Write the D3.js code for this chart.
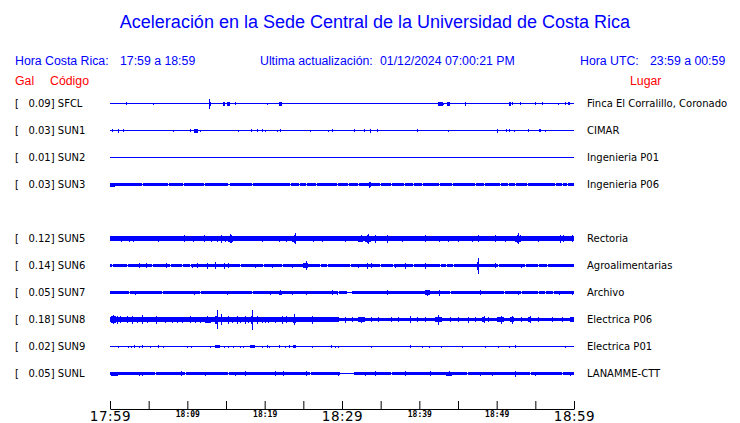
<!DOCTYPE html>
<html><head><meta charset="utf-8">
<script src="https://cdn.jsdelivr.net/npm/d3@7"></script>
<style>
html,body{margin:0;padding:0;background:#fff;}
svg{display:block;}
text{white-space:pre;}
</style></head>
<body>
<script>
// ---------------- DATA ----------------
const title = "Aceleración en la Sede Central de la Universidad de Costa Rica";
const localRange = "17:59 a 18:59";
const utcRange = "23:59 a 00:59";
const updated = "01/12/2024 07:00:21 PM";
const startTime = "2024-12-01T17:59:00";
const endTime = "2024-12-01T18:59:00";

const rowOrder = ["SFCL","SUN1","SUN2","SUN3","SUN4","SUN5","SUN6","SUN7","SUN8","SUN9","SUNL"];
const stations = ["SFCL","SUN1","SUN2","SUN3","SUN5","SUN6","SUN7","SUN8","SUN9","SUNL"];
const gal = [0.09,0.03,0.01,0.03,0.12,0.14,0.05,0.18,0.02,0.05];
const places = ["Finca El Corralillo, Coronado","CIMAR","Ingenieria P01","Ingenieria P06","Rectoria",
  "Agroalimentarias","Archivo","Electrica P06","Electrica P01","LANAMME-CTT"];

// background (noise) half-amplitude of each trace, relative units
const baseAmp = [0.5,0.5,0.5,1.5,2.3,1.4,1.2,1.7,0.5,1.3];

// envelope peaks: [start minute, end minute, half-amplitude] (minutes after 17:59)
const peaksSFCL = [[2.1,2.1,1.5],[5.5,5.5,1],[12.8,12.8,5],[12.9,13.0,2],[14.6,14.9,2],[15.1,15.5,2],[16.1,16.1,1.5],
  [20.3,20.3,1],[21.9,22.3,2],[42.4,43.0,2],[43.1,43.1,1],[43.6,44.0,2],[45.9,46.0,2],[51.6,51.8,2],[52.0,52.0,1.5],
  [53.0,53.0,1.5],[55.0,55.1,1.5],[55.8,55.8,1.5],[57.9,57.9,1],[58.9,58.9,1.5],[59.2,59.2,1.5],[59.4,59.4,1.5]];
const peaksSUN1 = [[0.3,0.3,1.5],[1.0,1.1,2],[1.7,1.7,1.5],[8.2,8.2,1],[10.4,10.4,1.5],[10.8,11.4,2],[11.7,11.7,1],
  [16.6,16.6,1],[18.2,18.2,1.5],[19.0,19.0,1.5],[19.6,19.6,1.5],[20.0,20.0,1],[21.6,21.6,1],[22.0,22.0,1.5],
  [25.9,25.9,1],[28.2,28.2,1],[28.7,28.7,1.5],[31.6,31.6,1.5],[32.8,32.8,1.5],[33.6,33.7,2],[34.5,34.5,1.5],
  [39.7,39.8,1.5],[43.7,43.7,1],[50.0,50.0,2],[51.2,51.2,1.5],[51.6,51.6,1.5],[52.2,52.2,1],[54.1,54.1,1.5],
  [55.5,55.7,1.5],[56.3,56.3,1]];
const peaksSUN2 = [];
const peaksSUN3 = [[0,0.6,2],[33.5,33.5,3],[33.6,33.6,2.5],[20.5,20.6,1.8],[45.0,45.1,1.8],[57.0,57.1,1.8]];
const peaksSUN5 = [[0.1,0.6,2.8],[1.4,1.4,3],[2.4,2.4,3],[3.0,3.0,3],[4.5,4.5,2.8],[6.2,6.2,3],[8.0,8.0,2.8],
  [9.3,9.9,2.8],[9.6,9.6,3.2],[10.7,10.7,3],[12.1,12.1,3.5],[13.1,13.1,3],[13.8,13.8,3],[14.4,14.4,4],[14.9,14.9,3],
  [15.3,15.9,3],[15.5,15.5,4.5],[15.7,15.7,4],[17.5,17.5,2.8],[19.6,19.6,3],[21.8,21.8,3],[22.8,22.8,3],
  [23.5,24.1,3],[23.8,23.8,4],[23.9,23.9,5.5],[26.3,26.3,3],[27.4,27.4,3],[29.0,29.0,2.8],[30.4,30.4,3],
  [32.1,32.7,3],[32.4,32.4,3.5],[33.0,33.8,3],[33.2,33.2,4],[33.4,33.4,5],[34.3,34.3,4],[35.8,35.8,4],
  [37.7,37.7,3],[39.0,39.0,2.8],[40.7,40.7,3.5],[42.5,42.5,3],[43.7,43.7,3],[45.0,45.0,3],[46.8,46.8,3],
  [47.6,47.6,3.5],[49.8,49.8,3.5],[51.1,51.1,3],[52.4,53.2,3],[52.6,52.6,4],[52.8,52.8,5.5],[53.0,53.0,3.5],
  [55.4,55.4,3],[57.5,58.8,2.8],[58.2,58.2,4],[58.6,58.6,3.5],[59.8,59.8,3.5]];
const peaksSUN6 = [[3.7,3.7,2.5],[4.7,4.7,2.5],[7.3,7.3,2.5],[10.6,10.6,2],[11.2,11.2,2.5],[12.5,12.5,3],
  [13.6,13.6,3.5],[14.7,14.7,3],[15.3,15.3,2.5],[18.8,18.8,2],[20.9,20.9,2],[23.5,23.5,2],[25.0,25.6,2.8],
  [25.3,25.3,4.5],[32.1,32.1,2],[33.2,33.2,3],[33.8,33.8,2.5],[36.9,36.9,2],[38.1,38.1,3],[40.7,40.7,3],
  [47.5,47.7,4],[47.6,47.6,8],[49.8,49.8,2.5],[53.2,53.2,2]];
const peaksSUN7 = [[3.2,3.2,2],[4.1,4.1,1.8],[10.8,10.8,2],[15.1,15.1,2],[20.7,20.7,2],[21.8,22.2,2],[22.0,22.0,2.5],
  [23.5,23.5,2],[25.4,25.4,2],[28.7,28.8,2.5],[29.3,29.3,2],[35.8,35.8,2.5],[40.7,41.4,2.2],[41.0,41.0,3],
  [42.5,42.5,3],[47.8,47.8,2.5],[52.8,52.8,2],[58.0,58.0,2],[59.7,59.7,2]];
const peaksSUN8 = [[0,29.5,2.2],[0.1,0.6,3.2],[0.4,0.4,4.5],[0.65,0.65,3.5],[0.9,0.9,4],[1.29,1.29,3.5],
  [2.2,2.2,3.5],[2.8,2.8,4],[3.45,3.45,3],[4.1,4.1,4.5],[4.74,4.74,3],[6.0,6.0,4],[7.11,7.11,3],[8.0,8.0,3],
  [8.62,8.62,3],[9.27,9.27,3],[10.3,10.3,3.5],[10.99,10.99,3],[11.64,11.64,3],[12.3,13.1,3],[12.6,12.6,3.5],
  [13.6,14.0,4],[13.8,13.8,9.5],[14.4,14.4,5.5],[15.3,15.3,4],[15.73,15.73,3],[16.4,16.4,4],[16.81,16.81,3],
  [17.5,17.5,4],[17.89,17.89,3],[18.2,18.4,4],[18.3,18.3,10],[19.0,19.0,4],[19.61,19.61,3],[20.0,20.0,3],
  [20.47,20.47,3],[21.34,21.34,3],[22.2,22.2,4],[22.8,22.8,3.5],[23.6,24.0,3],[23.8,23.8,5.5],[26.1,26.1,4],
  [26.9,26.9,2.5],[29.5,29.5,2.5],[30.4,30.4,3],[31.3,31.3,2.5],[32.1,33.0,2.5],[32.5,32.5,3],[33.8,33.8,2.5],
  [34.7,34.7,2.5],[36.4,36.4,2.5],[37.3,37.3,2.5],[38.8,38.8,3.5],[39.7,39.7,2.5],[40.7,40.7,2.5],
  [42.0,42.9,2.8],[42.4,42.4,5],[44.0,44.0,2.5],[45.0,45.0,2.5],[46.3,46.3,3],[47.2,47.2,2.5],[48.1,48.5,2.8],
  [48.3,48.3,3.5],[48.9,48.9,2.5],[50.0,50.9,2.8],[50.5,50.5,4],[51.7,52.2,2.8],[52.0,52.0,4],[53.2,53.2,2.5],
  [54.1,54.5,2.8],[54.3,54.3,3.5],[55.4,55.4,2.5],[57.1,57.1,2.5],[58.4,58.4,2.5],[59.5,60,2.5]];
const peaksSUN9 = [[1.0,1.0,1],[2.3,2.3,1],[2.7,2.7,1],[3.1,3.1,1.5],[3.7,3.7,1],[4.1,4.1,1.5],[5.2,5.2,1],
  [6.2,6.2,1.5],[6.9,6.9,1],[9.9,9.9,1],[10.5,10.5,1],[12.9,12.9,1],[13.6,14.2,1.5],[14.7,14.7,1],[15.3,15.3,1],
  [15.9,15.9,1],[16.8,16.8,1],[17.2,17.2,1],[18.1,18.8,1.5],[19.6,19.6,1],[20.3,20.3,1.5],[20.6,20.6,1],
  [21.9,21.9,1.5],[22.6,22.6,1],[23.1,23.1,1.5],[23.7,24.0,1.5],[26.1,26.1,1],[28.6,28.7,1.5],[29.1,29.1,1],
  [29.5,29.5,1],[33.8,33.8,1],[38.8,38.8,1.5],[40.3,40.3,1],[41.2,41.2,1],[42.8,42.9,1],[45.5,45.5,1],
  [48.5,48.5,1],[50.2,50.2,1],[51.6,51.6,1],[52.4,52.4,1.5],[58.8,58.8,1]];
const peaksSUNL = [[0.1,1.0,2],[3.7,3.7,2],[4.1,4.1,2],[6.0,6.0,1.8],[9.2,9.2,2.5],[12.3,12.3,2],[16.2,16.2,2],
  [17.4,17.4,2.5],[21.3,21.3,2.5],[22.4,22.4,2.5],[25.4,25.4,2.5],[29.5,29.5,2],[33.0,33.0,2],[34.3,34.3,2.5],
  [38.1,38.1,2.5],[41.4,41.4,2.5],[43.5,44.2,2],[43.8,43.8,2.5],[47.8,47.8,2],[49.4,49.4,2],[52.4,52.4,3],
  [55.0,55.0,2],[59.5,59.5,2]];
const peaks = [peaksSFCL,peaksSUN1,peaksSUN2,peaksSUN3,peaksSUN5,peaksSUN6,peaksSUN7,peaksSUN8,peaksSUN9,peaksSUNL];

// quiet stretches where the trace is thinner than its background: [start, end, half-amplitude]
const quietSUN3 = [[4.1,4.1,0.8],[7.5,7.5,0.8],[9.5,9.5,0.8],[12.2,12.2,0.8],[15.2,15.5,0.8],[18.3,18.3,0.8],
  [23.3,23.3,0.8],[24.4,24.4,0.8],[25.4,25.4,0.8],[26.6,26.6,0.8],[29.3,29.3,0.8],[30.8,30.8,0.8],[32.1,32.1,0.8],
  [34.9,34.9,0.8],[36.3,36.3,0.8],[38.0,38.0,0.8],[39.2,39.2,0.8],[40.3,40.3,0.8],[42.5,42.5,0.8],[44.2,44.2,0.8],
  [47.2,47.2,0.8],[48.3,48.3,0.8],[50.4,50.4,0.8],[51.5,51.5,0.8],[52.4,52.4,0.8],[53.9,53.9,0.8],[57.5,57.5,0.8],
  [58.4,58.4,0.8],[59.1,59.1,0.8]];
const quietSUN6 = [[0.2,0.2,0.6],[2.2,2.2,0.6],[5.4,5.4,0.6],[7.8,7.8,0.6],[9.3,9.3,0.6],[10.3,10.3,0.6],
  [16.8,16.8,0.6],[19.8,19.8,0.6],[22.2,22.2,0.6],[27.2,27.2,0.6],[28.0,28.0,0.6],[31.0,31.0,0.6],[34.9,34.9,0.6],
  [36.6,36.6,0.6],[39.2,39.2,0.6],[42.7,42.7,0.6],[43.5,43.5,0.6],[44.4,44.4,0.6],[50.2,50.2,0.6],[53.6,53.6,0.6],
  [55.4,55.4,0.6],[56.5,56.5,0.6]];
const quietSUN7 = [[2.4,2.4,0.5],[6.7,6.7,0.5],[11.6,11.6,0.5],[18.3,18.3,0.5],[29.5,29.5,0.5],[30.6,31.3,0.5],
  [44.0,44.0,0.5],[50.9,50.9,0.5],[53.2,53.2,0.5],[55.4,55.4,0.5],[56.3,56.3,0.5],[57.3,57.3,0.5]];
const quietSUNL = [[5.8,5.8,0.6],[9.7,9.7,0.6],[15.3,15.3,0.6],[25.9,25.9,0.6],[29.7,31.5,0.7],[36.4,36.4,0.6],
  [46.1,46.1,0.6],[54.3,54.3,0.6],[58.4,58.4,0.6]];
const quiet = [[],[],[],quietSUN3,[],quietSUN6,quietSUN7,[],[],quietSUNL];

const tickLabels = ["17:59","18:04","18:09","18:14","18:19","18:24","18:29","18:34","18:39","18:44","18:49","18:54","18:59"];
const majorLabels = ["17:59","18:29","18:59"];
const minorLabels = ["18:09","18:19","18:39","18:49"];

// ---------------- CHART ----------------
const W = 740, H = 423;
const BLUE = "#0000ff", RED = "#ff0000";
const svg = d3.select("body").append("svg").attr("width", W).attr("height", H);

const t0 = new Date(startTime), t1 = new Date(endTime);
const x = d3.scaleTime().domain([t0, t1]).range([110, 574]);
const tm = m => d3.timeSecond.offset(t0, Math.round(m * 60));
const yRow = d3.scalePoint().domain(rowOrder).range([103.5, 373.5]);
const amp = d3.scaleLinear().domain([-1, 1]).range([1, -1]); // relative units -> pixel offset

const sans = "'Liberation Sans', Arial, sans-serif";
const dv = "'DejaVu Sans', sans-serif";

svg.append("text").attr("x", 375).attr("y", 28).attr("text-anchor", "middle")
  .attr("font-family", sans).attr("font-size", 18).attr("fill", BLUE).text(title);

const hdr = [["Hora Costa Rica:", 15], [localRange, 120], ["Ultima actualización:", 260], [updated, 380],
  ["Hora UTC:", 580], [utcRange, 650]];
svg.selectAll("text.hdr").data(hdr).join("text").attr("class", "hdr")
  .attr("x", d => d[1]).attr("y", 65).attr("font-family", sans).attr("font-size", 12.3)
  .attr("fill", BLUE).text(d => d[0]);

svg.selectAll("text.cap").data([["Gal", 15], ["Código", 50], ["Lugar", 630]]).join("text").attr("class", "cap")
  .attr("x", d => d[1]).attr("y", 85).attr("font-family", sans).attr("font-size", 12.3)
  .attr("fill", RED).text(d => d[0]);

const g = svg.append("g").attr("shape-rendering", "crispEdges");

stations.forEach((s, i) => {
  const cy = yRow(s);
  const row = g.append("g");
  row.append("rect").attr("x", x(t0)).attr("width", x(t1) - x(t0))
    .attr("y", cy + amp(baseAmp[i])).attr("height", amp(-baseAmp[i]) - amp(baseAmp[i]))
    .attr("fill", BLUE);
  quiet[i].forEach(q => {
    const xs = x(tm(q[0])), w = Math.max(1, x(tm(q[1])) - xs);
    [[amp(baseAmp[i]), amp(q[2])], [amp(-q[2]), amp(-baseAmp[i])]].forEach(([a, b]) => {
      row.append("rect").attr("x", xs).attr("width", w).attr("y", cy + a).attr("height", b - a).attr("fill", "#fff");
    });
  });
  row.selectAll("rect.pk").data(peaks[i]).join("rect").attr("class", "pk")
    .attr("x", d => x(tm(d[0])))
    .attr("width", d => Math.max(1, x(tm(Math.min(d[1], 60))) - x(tm(d[0]))))
    .attr("y", d => cy + amp(d[2]))
    .attr("height", d => amp(-d[2]) - amp(d[2]))
    .attr("fill", BLUE);

  svg.append("text").attr("x", 15).attr("y", cy).attr("dy", "0.36em")
    .attr("font-family", dv).attr("font-size", 10).attr("fill", "#000")
    .text(`[   ${gal[i].toFixed(2)}] ${s}`);
  svg.append("text").attr("x", 587).attr("y", cy).attr("dy", "0.36em")
    .attr("font-family", dv).attr("font-size", 10).attr("fill", "#000")
    .text(places[i]);
});

// time axis
const toDate = s => { const [h, m] = s.split(":").map(Number); const d = new Date(t0); d.setHours(h, m, 0, 0); return d; };
const fmt = d3.timeFormat("%H:%M");
const axis = d3.axisBottom(x)
  .tickValues(tickLabels.map(toDate))
  .tickSizeInner(-8).tickSizeOuter(0).tickPadding(2.5)
  .tickFormat(d => { const s = fmt(d); return (majorLabels.includes(s) || minorLabels.includes(s)) ? s : ""; });
const ax = svg.append("g").attr("transform", "translate(0,409)").call(axis);
ax.select(".domain").attr("stroke", "#000");
ax.selectAll(".tick line").attr("stroke", "#000");
ax.selectAll(".tick text").attr("fill", "#000")
  .attr("font-family", d => majorLabels.includes(fmt(d)) ? "'DejaVu Sans', sans-serif" : "'DejaVu Sans Mono', monospace")
  .attr("font-size", d => majorLabels.includes(fmt(d)) ? 13.5 : 8)
  .attr("letter-spacing", d => majorLabels.includes(fmt(d)) ? "0.5px" : null)
  .attr("font-weight", d => majorLabels.includes(fmt(d)) ? "normal" : "bold");
</script>
</body></html>
